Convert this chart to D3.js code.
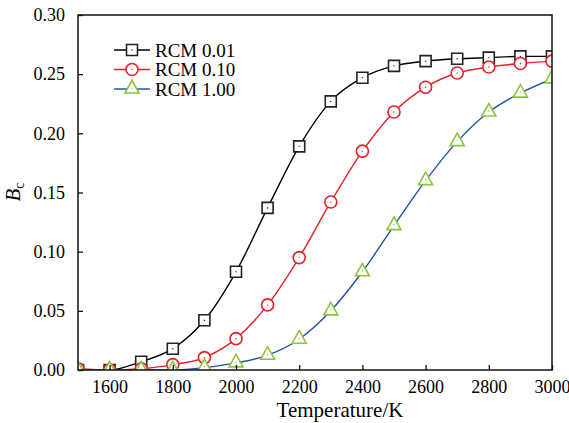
<!DOCTYPE html>
<html>
<head>
<meta charset="utf-8">
<script src="https://cdn.jsdelivr.net/npm/d3@7"></script>
<style>
  body { margin: 0; background: #fff; }
  text { font-family: "Liberation Serif", "Times New Roman", serif; fill: #000; }
</style>
</head>
<body>
<svg id="chart" width="569" height="423"></svg>
<script>
	var temps = [1500, 1600, 1700, 1800, 1900, 2000, 2100, 2200, 2300, 2400, 2500, 2600, 2700, 2800, 2900, 3000];
	var rcm001 = [0, 0, 0.007, 0.018, 0.042, 0.083, 0.137, 0.189, 0.227, 0.247, 0.257, 0.261, 0.263, 0.264, 0.265, 0.265];
	var rcm010 = [0.001, 0, 0.001, 0.0045, 0.0105, 0.0265, 0.055, 0.095, 0.142, 0.185, 0.218, 0.239, 0.251, 0.256, 0.259, 0.261];
	var rcm100 = [0, 0, 0, 0, 0.002, 0.006, 0.0125, 0.026, 0.050, 0.083, 0.122, 0.160, 0.193, 0.218, 0.234, 0.246];
	var seriesNames = ["RCM 0.01", "RCM 0.10", "RCM 1.00"];
	var xTicks = [1600, 1800, 2000, 2200, 2400, 2600, 2800, 3000];
	var yTicks = [0, 0.05, 0.10, 0.15, 0.20, 0.25, 0.30];

	var pLeft = 78, pRight = 552, pTop = 15, pBottom = 370;

	var svg = d3.select("#chart");
	var x = d3.scaleLinear().domain([1500, 3000]).range([pLeft, pRight]);
	var y = d3.scaleLinear().domain([0, 0.3]).range([pBottom, pTop]);

	var styles = [
		{line: "#000000", mark: "#222222", shape: "square"},
		{line: "#e8202a", mark: "#e8202a", shape: "circle"},
		{line: "#2050a8", mark: "#8cc43c", shape: "triangle"}
	];
	var allSeries = [rcm001, rcm010, rcm100];

	svg.append("clipPath").attr("id", "plotclip")
		.append("rect")
		.attr("x", pLeft).attr("y", pTop)
		.attr("width", pRight - pLeft).attr("height", pBottom - pTop);

	function markerPath(shape) {
		if (shape === "square") return "M-5.5,-5.5H5.5V5.5H-5.5Z";
		if (shape === "circle") return "M6,0A6,6 0 1,1 -6,0A6,6 0 1,1 6,0Z";
		return "M0,-7.5L7,5L-7,5Z";
	}

	var plot = svg.append("g").attr("clip-path", "url(#plotclip)");

	var line = d3.line().curve(d3.curveMonotoneX);

	allSeries.forEach(function (vals, si) {
		var pts = temps.map(function (t, i) { return [x(t), y(vals[i])]; });
		plot.append("path")
			.attr("d", line(pts))
			.attr("fill", "none")
			.attr("stroke", styles[si].line)
			.attr("stroke-width", 1.4);
	});

	allSeries.forEach(function (vals, si) {
		var g = plot.selectAll(".m" + si)
			.data(vals)
			.enter().append("g")
			.attr("class", "m" + si)
			.attr("transform", function (d, i) {
				var dy = styles[si].shape === "triangle" ? -1 : 0;
				return "translate(" + x(temps[i]) + "," + (y(d) + dy) + ")";
			});
		g.append("path")
			.attr("d", markerPath(styles[si].shape))
			.attr("fill", "#fff")
			.attr("stroke", styles[si].mark)
			.attr("stroke-width", 1.6);
		g.append("circle")
			.attr("r", 0.7)
			.attr("fill", styles[si].mark);
	});

	// frame
	svg.append("rect")
		.attr("x", pLeft).attr("y", pTop)
		.attr("width", pRight - pLeft).attr("height", pBottom - pTop)
		.attr("fill", "none")
		.attr("stroke", "#111")
		.attr("stroke-width", 1.5);

	// axes with inward ticks
	var xAxis = svg.append("g")
		.attr("transform", "translate(0," + pBottom + ")")
		.call(d3.axisBottom(x).tickValues(xTicks).tickSizeInner(-5).tickSizeOuter(0).tickPadding(10).tickFormat(d3.format("d")));
	var yAxis = svg.append("g")
		.attr("transform", "translate(" + pLeft + ",0)")
		.call(d3.axisLeft(y).tickValues(yTicks).tickSizeInner(-5).tickSizeOuter(0).tickPadding(13).tickFormat(d3.format(".2f")));

	[xAxis, yAxis].forEach(function (a) {
		a.select(".domain").remove();
		a.selectAll("line").attr("stroke", "#111").attr("stroke-width", 1.3);
		a.selectAll("text")
			.style("font-family", "'Liberation Serif', serif")
			.style("font-size", "18px")
			.attr("fill", "#000");
	});

	svg.append("text")
		.attr("x", 340).attr("y", 417)
		.attr("text-anchor", "middle")
		.style("font-family", "'Liberation Serif', serif")
		.style("font-size", "21px")
		.text("Temperature/K");

	var yl = svg.append("text")
		.attr("transform", "translate(20,192) rotate(-90)")
		.attr("text-anchor", "middle")
		.style("font-family", "'Liberation Serif', serif")
		.style("font-size", "21px");
	yl.append("tspan").style("font-style", "italic").text("B");
	yl.append("tspan").attr("dy", 4).style("font-size", "14px").text("c");

	// legend
	var legend = svg.append("g");
	seriesNames.forEach(function (name, si) {
		var ly = 50 + si * 19.5;
		legend.append("line")
			.attr("x1", 114).attr("x2", 150)
			.attr("y1", ly).attr("y2", ly)
			.attr("stroke", styles[si].line)
			.attr("stroke-width", 1.4);
		var mg = legend.append("g")
			.attr("transform", "translate(132," + (ly + (styles[si].shape === "triangle" ? -1 : 0)) + ")");
		mg.append("path")
			.attr("d", markerPath(styles[si].shape))
			.attr("fill", "#fff")
			.attr("stroke", styles[si].mark)
			.attr("stroke-width", 1.6);
		mg.append("circle").attr("r", 0.7).attr("fill", styles[si].mark);
		legend.append("text")
			.attr("x", 155).attr("y", ly + 6.5)
			.style("font-family", "'Liberation Serif', serif")
			.style("font-size", "19px")
			.text(name);
	});
</script>
</body>
</html>
